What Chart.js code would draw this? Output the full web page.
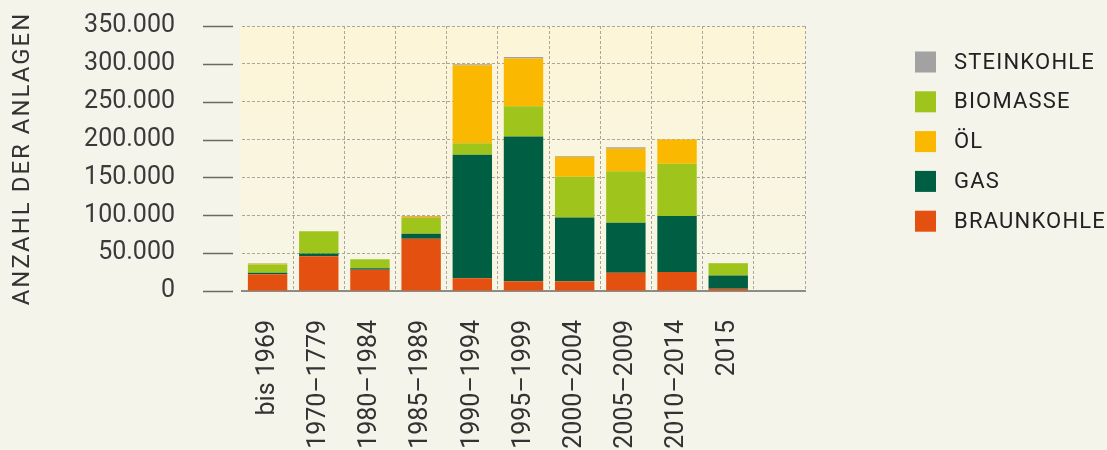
<!DOCTYPE html>
<html lang="de">
<head>
<meta charset="utf-8">
<title>Anzahl der Anlagen nach Baujahr und Energieträger</title>
<script src="https://cdn.jsdelivr.net/npm/chart.js@4.4.1/dist/chart.umd.min.js"></script>
<style>
  html, body { margin: 0; padding: 0; background: #f4f4ea; }
  #wrap { width: 1107px; height: 450px; }
  canvas { display: block; }
</style>
</head>
<body>
<div id="wrap"><canvas id="chart" width="1107" height="450"></canvas></div>
<script>
// Baujahr-Klassen (letzte Spalte bleibt leer)
const categories = ['bis 1969', '1970–1779', '1980–1984', '1985–1989', '1990–1994',
                    '1995–1999', '2000–2004', '2005–2009', '2010–2014', '2015', ''];

// Anzahl der Anlagen je Energieträger (Stapel von unten nach oben)
const braunkohle = [22000, 46000, 28000, 69000, 17000, 13000, 13000, 24000, 25000, 3000, null];
const gas        = [2000, 3500, 2000, 6500, 163000, 191000, 84000, 66000, 74000, 17500, null];
const biomasse   = [11000, 29500, 12000, 21000, 15000, 40000, 54000, 68000, 69000, 16000, null];
const oel        = [1000, 0, 0, 1500, 103000, 63000, 26000, 30000, 32000, 500, null];
const steinkohle = [500, 0, 0, 1000, 1500, 2000, 1000, 2000, 500, 0, null];

const seriesLabels = ['BRAUNKOHLE', 'GAS', 'BIOMASSE', 'ÖL', 'STEINKOHLE'];
const seriesColors = ['#e4500f', '#005e42', '#9fc41c', '#fbb800', '#a2a2a2'];

// Reihenfolge der Legendeneinträge von oben nach unten
const legendOrder = ['STEINKOHLE', 'BIOMASSE', 'ÖL', 'GAS', 'BRAUNKOHLE'];

// Achsenskala
const yMin = 0, yMax = 350000, yStep = 50000;
const yTitle = 'ANZAHL DER ANLAGEN';

const FONT = 'Roboto, "Noto Sans", sans-serif';

function formatThousands(v) {
  return String(v).replace(/\B(?=(\d{3})+(?!\d))/g, '.');
}

// Hintergrund des Diagrammbereichs und Sperrung des Achsentitels
const plotBackground = {
  id: 'plotBackground',
  beforeDraw(chart) {
    const { ctx, chartArea: a } = chart;
    const g = ctx.createLinearGradient(0, a.top, 0, a.bottom);
    g.addColorStop(0, '#fdf5d7');
    g.addColorStop(1, '#f6f5e6');
    ctx.save();
    ctx.fillStyle = g;
    ctx.fillRect(a.left - 2, a.top, a.right - a.left + 2, a.bottom - a.top);
    ctx.restore();
    ctx.letterSpacing = '2px';
  },
  beforeDatasetsDraw(chart) {
    chart.ctx.letterSpacing = '0px';
  }
};

// Kurze Teilstriche links neben dem Diagrammbereich
const yTickMarks = {
  id: 'yTickMarks',
  afterDraw(chart) {
    const { ctx, chartArea: a } = chart;
    const scale = chart.scales.y;
    ctx.save();
    ctx.strokeStyle = '#6a6a62';
    ctx.lineWidth = 1.5;
    scale.ticks.forEach(t => {
      const y = Math.round(scale.getPixelForValue(t.value)) + 0.5;
      ctx.beginPath();
      ctx.moveTo(a.left - 39, y);
      ctx.lineTo(a.left - 9, y);
      ctx.stroke();
    });
    ctx.restore();
  }
};

// Legende rechts neben dem Diagramm
const sideLegend = {
  id: 'sideLegend',
  afterDraw(chart) {
    const { ctx } = chart;
    const ds = chart.data.datasets;
    ctx.save();
    ctx.letterSpacing = '1.2px';
    ctx.font = '22px ' + FONT;
    ctx.textAlign = 'left';
    ctx.textBaseline = 'middle';
    legendOrder.forEach((name, i) => {
      const d = ds.find(s => s.label === name);
      const cy = 62 + i * 39.8;
      ctx.fillStyle = d.backgroundColor;
      ctx.fillRect(915, cy - 10.5, 21, 21);
      ctx.fillStyle = '#222222';
      ctx.fillText(d.label, 954, cy + 1);
    });
    ctx.restore();
  }
};

const seriesValues = [braunkohle, gas, biomasse, oel, steinkohle];

const datasets = seriesValues.map((vals, i) => ({
  label: seriesLabels[i],
  data: vals,
  backgroundColor: seriesColors[i],
  borderWidth: 0,
  barPercentage: 0.77,
  categoryPercentage: 1.0
}));

new Chart(document.getElementById('chart'), {
  type: 'bar',
  data: { labels: categories, datasets },
  plugins: [plotBackground, yTickMarks, sideLegend],
  options: {
    responsive: false,
    animation: false,
    layout: { padding: { top: 26, right: 302, bottom: 0, left: 0 } },
    plugins: {
      legend: { display: false },
      tooltip: { enabled: false }
    },
    scales: {
      x: {
        stacked: true,
        afterFit(scale) { scale.height = 159; },
        grid: {
          offset: true,
          drawTicks: false,
          color: ctx => (ctx.index === 0 ? 'rgba(0,0,0,0)' : '#aaa79a'),
          lineWidth: 1
        },
        border: { display: true, color: '#8d8c84', width: 2, dash: [3, 2] },
        ticks: {
          z: 1,
          minRotation: 90,
          maxRotation: 90,
          autoSkip: false,
          padding: 29,
          color: '#333333',
          font: { family: FONT, size: 25 }
        }
      },
      y: {
        stacked: true,
        min: yMin,
        max: yMax,
        afterFit(scale) { scale.width = 242; },
        grid: {
          drawTicks: true,
          tickLength: 64,
          tickColor: 'rgba(0,0,0,0)',
          color: '#aaa79a',
          lineWidth: 1
        },
        border: { display: false, dash: [3, 2] },
        ticks: {
          z: 1,
          stepSize: yStep,
          autoSkip: false,
          padding: 3,
          color: '#3a3a3a',
          font: { family: FONT, size: 25 },
          callback: v => formatThousands(v)
        },
        title: {
          display: true,
          text: yTitle,
          color: '#333333',
          padding: { top: 9, bottom: 0 },
          font: { family: FONT, size: 24 }
        }
      }
    }
  }
});
</script>
</body>
</html>
